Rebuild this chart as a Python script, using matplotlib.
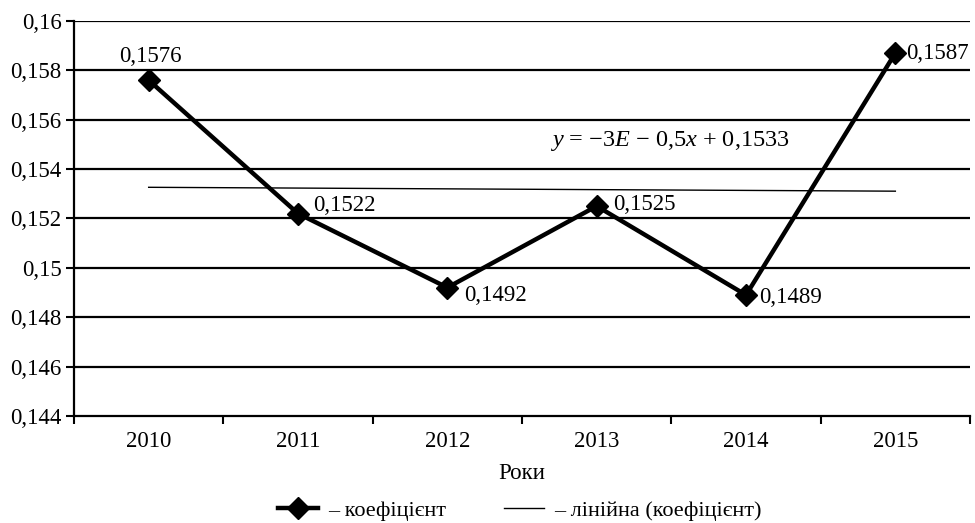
import numpy as np
import matplotlib
matplotlib.use("Agg")
import matplotlib.pyplot as plt
from matplotlib.lines import Line2D

plt.rcParams['font.family'] = ['Liberation Serif', 'DejaVu Serif']
plt.rcParams['mathtext.fontset'] = 'custom'
plt.rcParams['mathtext.rm'] = 'Liberation Serif'
plt.rcParams['mathtext.it'] = 'Liberation Serif:italic'

years = ['2010', '2011', '2012', '2013', '2014', '2015']
values = [0.1576, 0.1522, 0.1492, 0.1525, 0.1489, 0.1587]
value_labels = ['0,1576', '0,1522', '0,1492', '0,1525', '0,1489', '0,1587']
yticks = [0.144, 0.146, 0.148, 0.150, 0.152, 0.154, 0.156, 0.158, 0.160]
ytick_labels = ['0,144', '0,146', '0,148', '0,15', '0,152', '0,154', '0,156', '0,158', '0,16']

fig = plt.figure(figsize=(9.75, 5.23), dpi=100)
ax = fig.add_axes([0.0759, 0.2046, 0.919, 0.7554])

x = np.arange(len(years))
ax.set_xlim(-0.5, len(years) - 0.5)
ax.set_ylim(0.144, 0.160)

for yv in yticks[1:]:
    ax.axhline(yv, color='black', lw=1.6, zorder=1)

# trend line (linear fit of the series)
coef = np.polyfit(x + 1, values, 1)
trend = np.polyval(coef, x + 1)
ax.plot(x, trend, color='black', lw=1.0, zorder=2)

ax.plot(x, values, color='black', lw=3.2, marker='D', markersize=11, zorder=3)

fs = 16.5
offsets = [(1, 17, 'center'), (11, 6, 'left'), (12, -6, 'left'),
           (12, 1.5, 'left'), (9.5, -1.5, 'left'), (8, 0, 'left')]
for xi, v, lab, (dx, dy, ha) in zip(x, values, value_labels, offsets):
    ax.annotate(lab, (xi, v), xytext=(dx, dy), textcoords='offset points',
                ha=ha, va='center', fontsize=fs)

ax.text(3.49, 0.15514, r'$\mathit{y}$ = −3$\mathit{E}$ − 0,5$\mathit{x}$ + 0,1533',
        fontsize=17.5, ha='center', va='center')

ax.set_yticks(yticks)
ax.set_yticklabels(ytick_labels, fontsize=fs)
ax.set_xticks(x)
ax.set_xticklabels(years, fontsize=fs)
ax.set_xticks(np.arange(-0.5, len(years)), minor=True)
ax.tick_params(axis='x', which='major', length=0, pad=11)
ax.tick_params(axis='x', which='minor', length=6, width=1.5)
ax.tick_params(axis='y', length=6, width=1.5, pad=3)
ax.set_xlabel('Роки', fontsize=fs, labelpad=8)

for s in ['top', 'right']:
    ax.spines[s].set_visible(False)
for s in ['left', 'bottom']:
    ax.spines[s].set_linewidth(1.6)

h1 = Line2D([], [], color='black', lw=3.2, marker='D', markersize=11)
h2 = Line2D([], [], color='black', lw=1.0)
fig.legend([h1, h2], ['– коефіцієнт', '– лінійна (коефіцієнт)'], loc='center',
           bbox_to_anchor=(0.533, 0.023), ncol=2, frameon=False, fontsize=16,
           handlelength=1.8, columnspacing=2.6, handletextpad=0.45,
           borderpad=0.0)

fig.savefig('out.png', dpi=100)
